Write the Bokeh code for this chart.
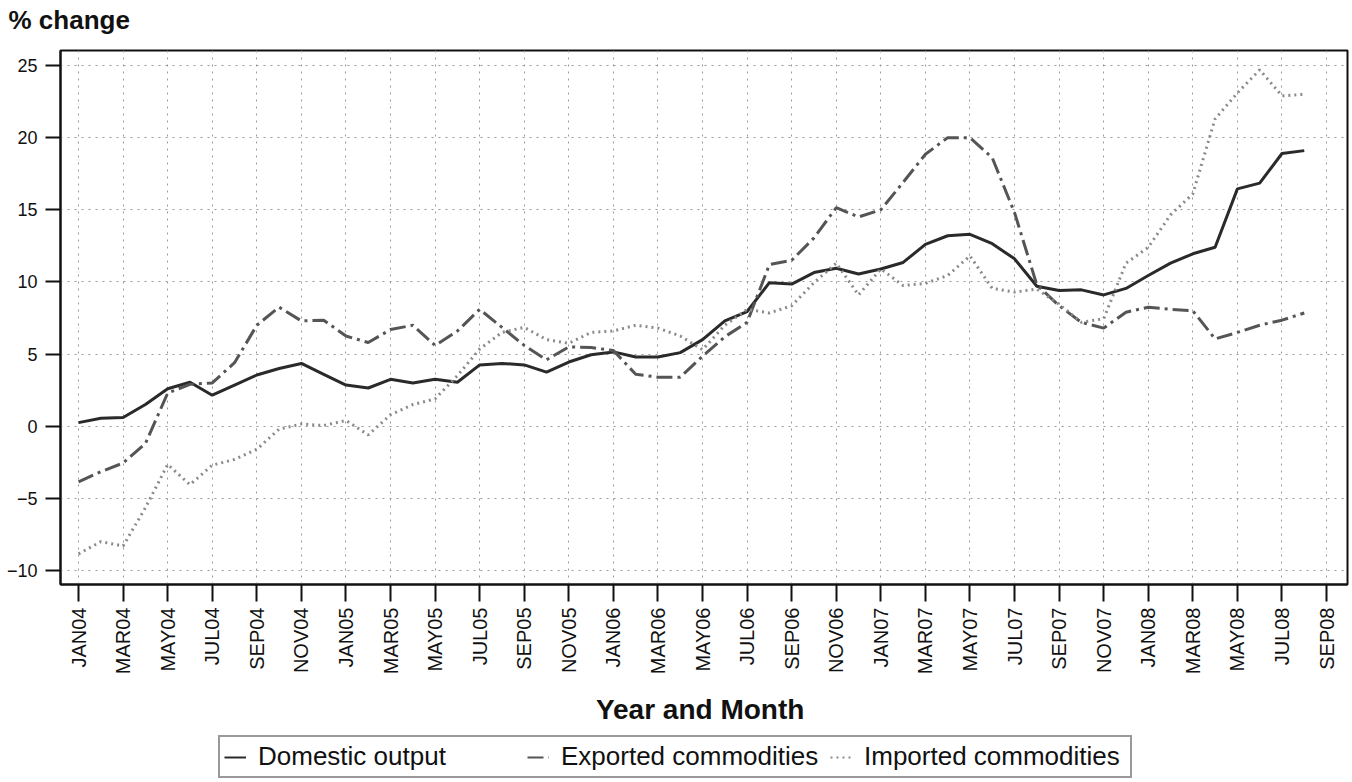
import math
from bokeh.plotting import figure
from bokeh.layouts import column
from bokeh.models import Range1d, FixedTicker, Legend, LegendItem, ColumnDataSource
from bokeh.embed import file_html
from bokeh.resources import INLINE

# ---- data (monthly, JAN04 .. AUG08) ----
domestic = [0.25, 0.55, 0.6, 1.5, 2.6, 3.05, 2.15, 2.85, 3.55, 4.0,
            4.35, 3.6, 2.85, 2.65, 3.25, 3.0, 3.25, 3.05, 4.25, 4.35,
            4.25, 3.75, 4.45, 4.95, 5.15, 4.8, 4.8, 5.1, 6.0, 7.3,
            7.95, 9.95, 9.85, 10.65, 10.95, 10.55, 10.9, 11.35, 12.6, 13.2,
            13.3, 12.65, 11.6, 9.7, 9.4, 9.45, 9.1, 9.55, 10.45, 11.3,
            11.95, 12.4, 16.45, 16.85, 18.9, 19.1]
exported = [-3.85, -3.15, -2.55, -1.2, 2.3, 2.9, 3.0, 4.4, 7.0, 8.25,
            7.3, 7.35, 6.25, 5.8, 6.7, 7.0, 5.6, 6.6, 8.1, 6.85,
            5.6, 4.6, 5.5, 5.45, 5.25, 3.6, 3.4, 3.4, 4.85, 6.2,
            7.2, 11.2, 11.5, 13.05, 15.15, 14.5, 15.0, 16.9, 18.85, 20.0,
            20.0, 18.6, 14.8, 9.8, 8.35, 7.2, 6.8, 7.9, 8.25, 8.1,
            8.0, 6.05, 6.5, 7.0, 7.35, 7.85]
imported = [-8.85, -8.0, -8.3, -5.65, -2.65, -4.05, -2.7, -2.3, -1.6, -0.2,
            0.15, 0.05, 0.4, -0.6, 0.8, 1.5, 1.9, 3.5, 5.35, 6.5,
            6.85, 6.0, 5.75, 6.5, 6.6, 7.0, 6.8, 6.25, 5.3, 7.0,
            8.1, 7.85, 8.35, 9.95, 11.3, 9.1, 10.9, 9.75, 9.9, 10.45,
            11.8, 9.55, 9.3, 9.5, 8.45, 7.2, 7.45, 11.3, 12.4, 14.65,
            16.1, 21.3, 23.1, 24.7, 22.9, 23.0]
month_index = list(range(len(domestic)))

tick_labels = ["JAN04", "MAR04", "MAY04", "JUL04", "SEP04", "NOV04",
               "JAN05", "MAR05", "MAY05", "JUL05", "SEP05", "NOV05",
               "JAN06", "MAR06", "MAY06", "JUL06", "SEP06", "NOV06",
               "JAN07", "MAR07", "MAY07", "JUL07", "SEP07", "NOV07",
               "JAN08", "MAR08", "MAY08", "JUL08", "SEP08"]
tick_pos = [2 * i for i in range(len(tick_labels))]
y_ticks = [-10, -5, 0, 5, 10, 15, 20, 25]

series_names = ["Domestic output", "Exported commodities", "Imported commodities"]

src = ColumnDataSource(dict(m=month_index, dom=domestic, exp=exported, imp=imported))

FONT = "Liberation Sans"
COLORS = ["#2a2a2a", "#555555", "#8a8a8a"]
DASHES = ["solid", "16 5 3 5", "2 4"]
COLS = ["dom", "exp", "imp"]
W = 1350


def blank_strip(height):
    f = figure(width=W, height=height, output_backend="svg", toolbar_location=None,
               x_range=Range1d(-200, -199), y_range=Range1d(-200, -199),
               x_axis_type=None, y_axis_type=None,
               min_border_left=0, min_border_right=0, min_border_top=0, min_border_bottom=0)
    f.outline_line_color = None
    f.background_fill_color = "white"
    f.border_fill_color = "white"
    f.xgrid.visible = False
    f.ygrid.visible = False
    return f


# ---- top strip holding the "% change" heading ----
pt = blank_strip(48)
pt.title.text = "% change"
pt.title.align = "left"
pt.title.offset = -52
pt.title.text_font = FONT
pt.title.text_font_size = "26px"
pt.title.text_font_style = "bold"
pt.title.text_color = "#111111"
pt.title.standoff = 4

# ---- main chart ----
p = figure(width=W, height=686, output_backend="svg", toolbar_location=None, title=None,
           x_range=Range1d(-0.81, 56.94), y_range=Range1d(-10.97, 26.04),
           min_border_left=60, min_border_right=3, min_border_top=2, min_border_bottom=150)
p.background_fill_color = "white"
p.border_fill_color = "white"
p.outline_line_color = "#111111"
p.outline_line_width = 2

p.xaxis.ticker = FixedTicker(ticks=tick_pos)
p.xaxis.major_label_overrides = {t: lab for t, lab in zip(tick_pos, tick_labels)}
p.xaxis.major_label_orientation = math.pi / 2
p.xaxis.major_label_standoff = 6
p.xaxis.major_label_text_font_size = "20px"
p.xaxis.axis_label = "Year and  Month"
p.xaxis.axis_label_standoff = 17
p.xaxis.axis_label_text_font_size = "28px"
p.xaxis.axis_label_text_font_style = "bold"

p.yaxis.ticker = FixedTicker(ticks=y_ticks)
p.yaxis.major_label_standoff = 8
p.yaxis.major_label_text_font_size = "18px"
p.xaxis.major_tick_out = 17
p.yaxis.major_tick_out = 15

for ax in (p.xaxis[0], p.yaxis[0]):
    ax.major_tick_in = 0
    ax.minor_tick_line_color = None
    ax.major_tick_line_width = 2
    ax.major_tick_line_color = "#111111"
    ax.axis_line_width = 2
    ax.axis_line_color = "#111111"
    ax.major_label_text_font = FONT
    ax.major_label_text_color = "#111111"
    ax.axis_label_text_font = FONT
    ax.axis_label_text_color = "#111111"

for g in (p.xgrid[0], p.ygrid[0]):
    g.grid_line_color = "#9a9a9a"
    g.grid_line_dash = "2 5"
    g.grid_line_width = 1

for col, c, d in zip(COLS, COLORS, DASHES):
    p.line("m", col, source=src, line_color=c, line_width=3, line_dash=d)

# ---- legend strip (separate figure so the boxed legend is not clipped) ----
pl = blank_strip(47)
items = []
for name, col, c, d in zip(series_names, COLS, COLORS, DASHES):
    r = pl.line("m", col, source=src, line_color=c, line_width=2, line_dash=d)
    items.append(LegendItem(label=name, renderers=[r]))

legend = Legend(items=items, orientation="horizontal", location=(158, 3),
                glyph_width=22, glyph_height=20, label_standoff=12,
                label_width=262, spacing=7, padding=4, margin=0,
                label_text_font=FONT, label_text_font_size="26px",
                label_text_color="#111111",
                border_line_color="#333333", border_line_width=2,
                background_fill_color="white", background_fill_alpha=1.0)
pl.add_layout(legend)

layout = column(pt, p, pl, spacing=0)
open("out.html", "w").write(file_html(layout, INLINE))
